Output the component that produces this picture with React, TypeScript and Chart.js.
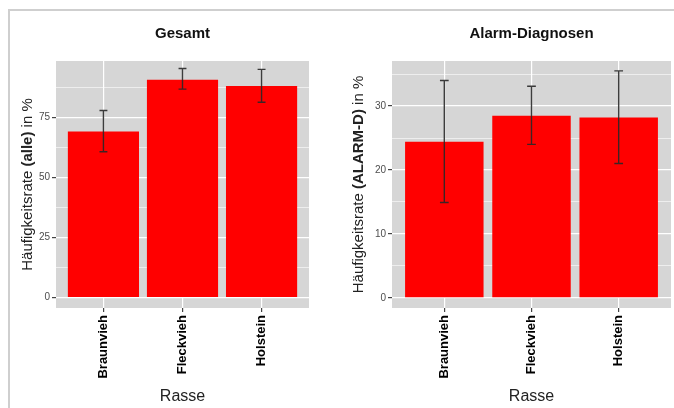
import React, { useEffect, useRef } from "react";
import { Chart, registerables } from "chart.js";

Chart.register(...registerables);

const FONT = "'Liberation Sans', Arial, Helvetica, sans-serif";
Chart.defaults.font.family = FONT;

// ---- data ----
const categories = ["Braunvieh", "Fleckvieh", "Holstein"];

const gesamtValues = [69.2, 90.8, 88.2];
const gesamtLower = [60.8, 86.9, 81.4];
const gesamtUpper = [78.0, 95.5, 95.1];
const gesamtMajorTicks = [0, 25, 50, 75];
const gesamtMinorTicks = [12.5, 37.5, 62.5, 87.5];

const alarmValues = [24.4, 28.5, 28.2];
const alarmLower = [14.9, 24.0, 21.0];
const alarmUpper = [34.0, 33.1, 35.5];
const alarmMajorTicks = [0, 10, 20, 30];
const alarmMinorTicks = [5, 15, 25, 35];

const xTitle = "Rasse";

type PanelProps = {
  left: number;
  width: number;
  title: string;
  yTitleParts: { text: string; bold: boolean }[];
  values: number[];
  lower: number[];
  upper: number[];
  majorTicks: number[];
  minorTicks: number[];
  yMin: number;
  yMax: number;
  yAxisWidth: number;
  rightPad: number;
  yTitleX: number;
};

function Panel(p: PanelProps) {
  const ref = useRef<HTMLCanvasElement | null>(null);
  useEffect(() => {
    const canvas = ref.current;
    if (!canvas) return;
    const allTicks = [...p.majorTicks, ...p.minorTicks].sort((a, b) => a - b);
    const isMajor = (v: number) => p.majorTicks.includes(v);

    const panelPlugin = {
      id: "panelPlugin",
      beforeDraw(chart: any) {
        const { ctx, chartArea: a } = chart;
        ctx.save();
        ctx.fillStyle = "#d6d6d6";
        ctx.fillRect(a.left, a.top, a.right - a.left, a.bottom - a.top);
        ctx.restore();
      },
      afterDatasetsDraw(chart: any) {
        const { ctx } = chart;
        const xs = chart.scales.x;
        const ys = chart.scales.y;
        ctx.save();
        ctx.strokeStyle = "rgba(40,40,40,0.9)";
        ctx.lineWidth = 1.4;
        for (let i = 0; i < categories.length; i++) {
          const cx = xs.getPixelForValue(i + 1);
          const half = xs.getPixelForValue(i + 1.05) - cx;
          const yl = ys.getPixelForValue(p.lower[i]);
          const yu = ys.getPixelForValue(p.upper[i]);
          ctx.beginPath();
          ctx.moveTo(cx, yl);
          ctx.lineTo(cx, yu);
          ctx.moveTo(cx - half, yl);
          ctx.lineTo(cx + half, yl);
          ctx.moveTo(cx - half, yu);
          ctx.lineTo(cx + half, yu);
          ctx.stroke();
        }
        ctx.restore();
      },
      afterDraw(chart: any) {
        const { ctx, chartArea: a } = chart;
        const cx = (a.left + a.right) / 2;
        const cy = (a.top + a.bottom) / 2;
        ctx.save();
        // title
        ctx.fillStyle = "#111";
        ctx.font = `bold 15px ${FONT}`;
        ctx.textAlign = "center";
        ctx.textBaseline = "middle";
        ctx.fillText(p.title, cx, 34);
        // x title
        ctx.fillStyle = "#222";
        ctx.font = `16px ${FONT}`;
        ctx.fillText(xTitle, cx, 397);
        // y title (mixed weight)
        ctx.translate(p.yTitleX, cy);
        ctx.rotate(-Math.PI / 2);
        ctx.textAlign = "left";
        const fontFor = (b: boolean) => `${b ? "bold " : ""}15px ${FONT}`;
        let total = 0;
        for (const part of p.yTitleParts) {
          ctx.font = fontFor(part.bold);
          total += ctx.measureText(part.text).width;
        }
        let x = -total / 2;
        for (const part of p.yTitleParts) {
          ctx.font = fontFor(part.bold);
          ctx.fillText(part.text, x, 0);
          x += ctx.measureText(part.text).width;
        }
        ctx.restore();
      },
    };

    const chart = new Chart(canvas, {
      type: "bar",
      data: {
        datasets: [
          {
            data: p.values.map((v, i) => ({ x: i + 1, y: v })),
            backgroundColor: "#ff0000",
            borderWidth: 0,
            barPercentage: 0.9,
            categoryPercentage: 1.0,
          },
        ],
      },
      options: {
        responsive: false,
        animation: false,
        devicePixelRatio: 1,
        layout: { padding: { top: 61, right: p.rightPad, left: 0, bottom: 0 } },
        plugins: { legend: { display: false }, tooltip: { enabled: false }, title: { display: false } },
        scales: {
          x: {
            type: "linear",
            min: 0.4,
            max: 3.6,
            offset: false,
            border: { display: false },
            grid: {
              offset: false,
              color: "#ffffff",
              lineWidth: 1.2,
              tickColor: "#444",
              tickLength: 4,
            },
            ticks: {
              autoSkip: false,
              minRotation: 90,
              maxRotation: 90,
              padding: 3,
              color: "#000",
              font: { size: 13, weight: "bold", family: FONT },
              callback: (v: any) => categories[Math.round(Number(v)) - 1] ?? "",
            },
            afterBuildTicks: (s: any) => {
              s.ticks = categories.map((_, i) => ({ value: i + 1 }));
            },
            afterFit: (s: any) => {
              s.height = 100;
            },
          },
          y: {
            type: "linear",
            min: p.yMin,
            max: p.yMax,
            border: { display: false },
            grid: {
              color: "#ffffff",
              lineWidth: (c: any) => (c.tick && isMajor(c.tick.value) ? 1.2 : 0.6),
              tickColor: (c: any) => (c.tick && isMajor(c.tick.value) ? "#444" : "rgba(0,0,0,0)"),
              tickLength: 4,
            },
            ticks: {
              padding: 2,
              color: "#4d4d4d",
              font: { size: 10, family: FONT },
              callback: (v: any) => (isMajor(Number(v)) ? String(v) : ""),
            },
            afterBuildTicks: (s: any) => {
              s.ticks = allTicks.map((v) => ({ value: v }));
            },
            afterFit: (s: any) => {
              s.width = p.yAxisWidth;
            },
          },
        },
      } as any,
      plugins: [panelPlugin],
    });
    return () => chart.destroy();
  }, []);

  return (
    <canvas
      ref={ref}
      width={p.width}
      height={408}
      style={{ position: "absolute", left: p.left, top: 0, width: p.width, height: 408 }}
    />
  );
}

export default function App() {
  return (
    <div
      style={{
        position: "fixed",
        left: 0,
        top: 0,
        width: 674,
        height: 408,
        background: "#ffffff",
        overflow: "hidden",
      }}
    >
      <div
        style={{
          position: "absolute",
          left: 8,
          top: 9,
          right: 0,
          bottom: -4,
          borderTop: "2px solid #cfcfcf",
          borderLeft: "2px solid #cfcfcf",
        }}
      />
      <Panel
        left={0}
        width={337}
        title="Gesamt"
        yTitleParts={[
          { text: "Häufigkeitsrate ", bold: false },
          { text: "(alle)", bold: true },
          { text: " in %", bold: false },
        ]}
        values={gesamtValues}
        lower={gesamtLower}
        upper={gesamtUpper}
        majorTicks={gesamtMajorTicks}
        minorTicks={gesamtMinorTicks}
        yMin={-4.3}
        yMax={98.6}
        yAxisWidth={56}
        rightPad={28}
        yTitleX={28}
      />
      <Panel
        left={337}
        width={337}
        title="Alarm-Diagnosen"
        yTitleParts={[
          { text: "Häufigkeitsrate ", bold: false },
          { text: "(ALARM-D)", bold: true },
          { text: " in %", bold: false },
        ]}
        values={alarmValues}
        lower={alarmLower}
        upper={alarmUpper}
        majorTicks={alarmMajorTicks}
        minorTicks={alarmMinorTicks}
        yMin={-1.6}
        yMax={37.05}
        yAxisWidth={55}
        rightPad={3}
        yTitleX={22}
      />
    </div>
  );
}
